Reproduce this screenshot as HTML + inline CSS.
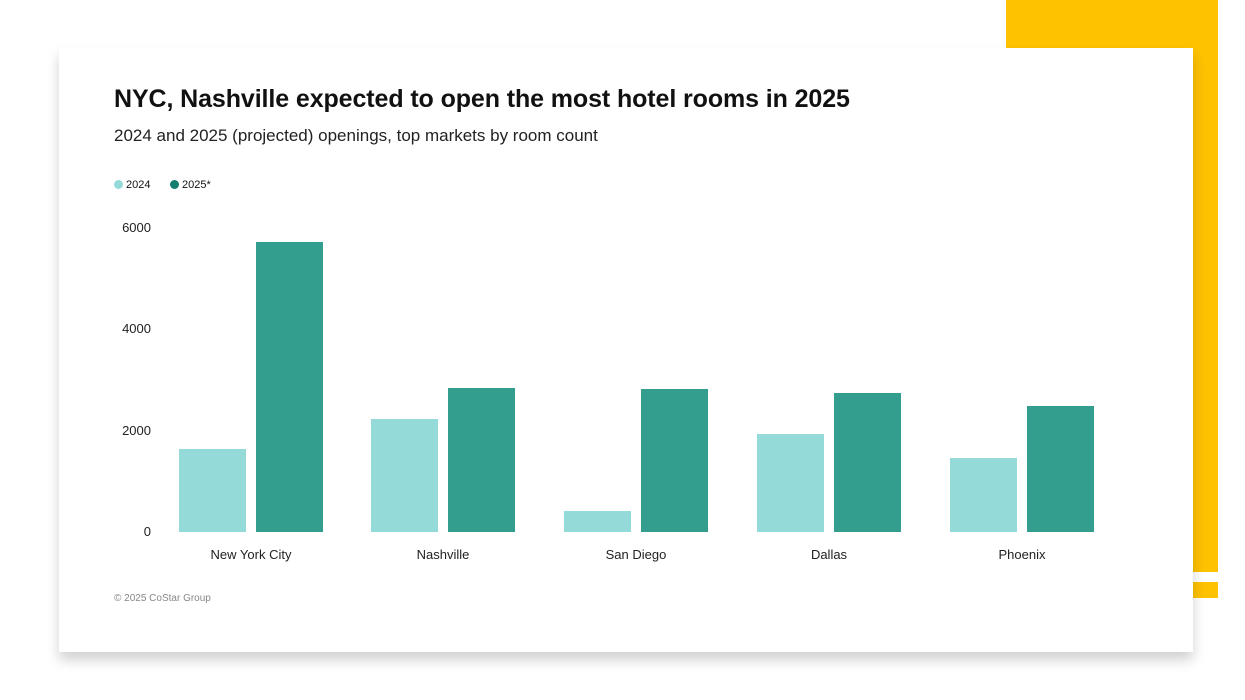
<!DOCTYPE html>
<html><head><style>
body{margin:0;width:1245px;height:700px;background:#fff;position:relative;overflow:hidden;font-family:"Liberation Sans",sans-serif;}
.y{position:absolute;background:#fec200;}
.card{position:absolute;left:59px;top:48px;width:1134px;height:604px;background:#fff;box-shadow:0 8px 12px rgba(0,0,0,0.18);}
.t{position:absolute;color:#111;white-space:nowrap;}
.b{position:absolute;width:67px;}
.l{background:#93dad8}.d{background:#339e8e}
.ax{position:absolute;font-size:13px;color:#222;text-align:right;width:60px;}
.xl{position:absolute;font-size:13px;color:#222;width:160px;text-align:center;top:547px;}
</style></head><body>
<div class="y" style="left:1006px;top:0;width:212px;height:48px"></div>
<div class="y" style="left:1193px;top:0;width:25px;height:572px"></div>
<div class="y" style="left:1193px;top:582px;width:25px;height:16px"></div>
<div class="card"></div>
<div class="t" style="left:114px;top:85px;font-size:25px;font-weight:bold;letter-spacing:-0.1px">NYC, Nashville expected to open the most hotel rooms in 2025</div>
<div class="t" style="left:114px;top:126px;font-size:17px;color:#222">2024 and 2025 (projected) openings, top markets by room count</div>
<div class="t" style="left:114px;top:179px;font-size:11px"><span style="display:inline-block;width:9px;height:9px;border-radius:50%;background:#93dad8;vertical-align:-1px"></span> 2024</div>
<div class="t" style="left:170px;top:179px;font-size:11px"><span style="display:inline-block;width:9px;height:9px;border-radius:50%;background:#137e70;vertical-align:-1px"></span> 2025*</div>
<div class="ax" style="left:91px;top:220px">6000</div>
<div class="ax" style="left:91px;top:321px">4000</div>
<div class="ax" style="left:91px;top:423px">2000</div>
<div class="ax" style="left:91px;top:524px">0</div>
<div class="b l" style="left:179px;top:449px;height:83px"></div>
<div class="b d" style="left:256px;top:242px;height:290px"></div>
<div class="b l" style="left:371px;top:419px;height:113px"></div>
<div class="b d" style="left:448px;top:388px;height:144px"></div>
<div class="b l" style="left:564px;top:511px;height:21px"></div>
<div class="b d" style="left:641px;top:389px;height:143px"></div>
<div class="b l" style="left:757px;top:434px;height:98px"></div>
<div class="b d" style="left:834px;top:393px;height:139px"></div>
<div class="b l" style="left:950px;top:458px;height:74px"></div>
<div class="b d" style="left:1027px;top:406px;height:126px"></div>
<div class="xl" style="left:171px">New York City</div>
<div class="xl" style="left:363px">Nashville</div>
<div class="xl" style="left:556px">San Diego</div>
<div class="xl" style="left:749px">Dallas</div>
<div class="xl" style="left:942px">Phoenix</div>
<div class="t" style="left:114px;top:593px;font-size:10px;color:#888">© 2025 CoStar Group</div>
</body></html>
